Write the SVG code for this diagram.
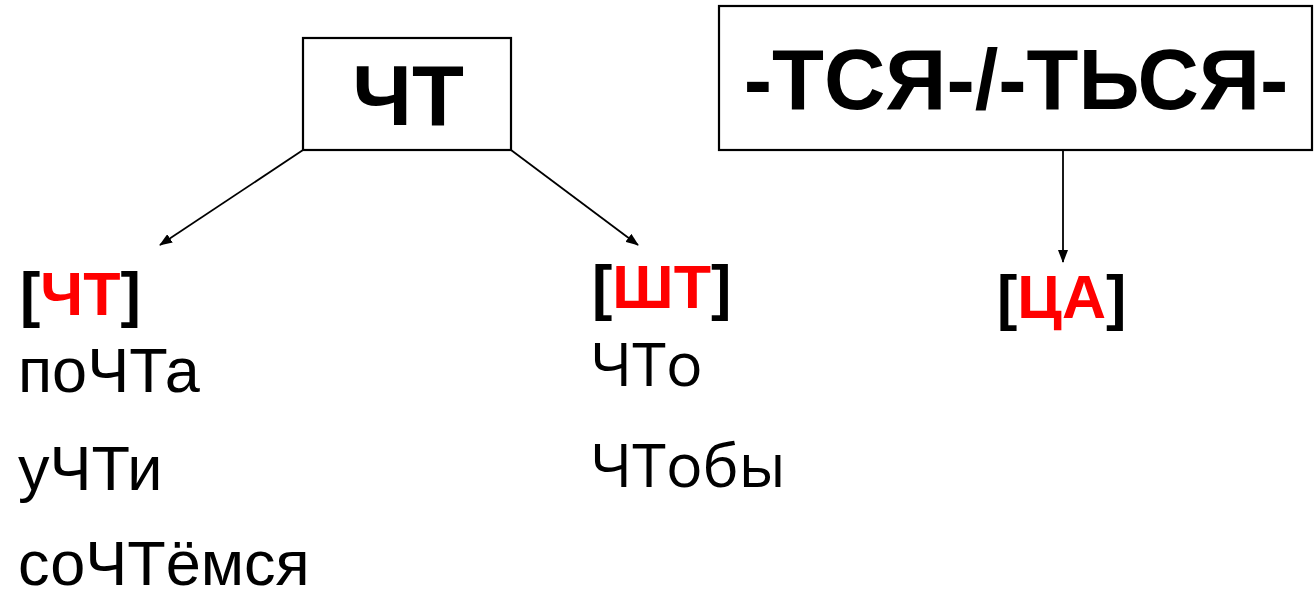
<svg xmlns="http://www.w3.org/2000/svg" width="1315" height="597" viewBox="0 0 1315 597">
<defs>
<marker id="ah" markerWidth="13" markerHeight="10" refX="12" refY="5" orient="auto" markerUnits="userSpaceOnUse">
<path d="M0,0 L13,5 L0,10 z" fill="#000"/>
</marker>
<style>
.box{fill:#fff;stroke:#000;stroke-width:2.2}
.title{font-family:"Liberation Sans",Arial,sans-serif;font-weight:bold;font-size:85px;fill:#000}
.lbl{font-family:"Liberation Sans",Arial,sans-serif;font-weight:bold;font-size:61px;fill:#000}
.red{fill:#ff0000}
.word{font-family:"Liberation Sans",Arial,sans-serif;font-size:63px;fill:#000}
.word2{font-family:"Open Sans","Noto Sans",sans-serif;font-size:61px;fill:#000}
.conn{stroke:#000;stroke-width:1.8;fill:none}
</style>
</defs>
<rect width="1315" height="597" fill="#fff"/>
<g id="connectors">
<line class="conn" x1="303" y1="150" x2="160" y2="245" marker-end="url(#ah)"/>
<line class="conn" x1="511" y1="150" x2="638" y2="245" marker-end="url(#ah)"/>
<line class="conn" x1="1063" y1="150" x2="1063" y2="262" marker-end="url(#ah)"/>
</g>
<g id="node-cht">
<rect class="box" x="303" y="38" width="208" height="112"/>
<text class="title" x="408" y="125" text-anchor="middle">ЧТ</text>
</g>
<g id="node-tsya">
<rect class="box" x="719" y="6" width="593" height="144"/>
<text class="title" x="1016" y="109" text-anchor="middle">-ТСЯ-/-ТЬСЯ-</text>
</g>
<g id="node-cht-sound">
<text class="lbl" x="20" y="315">[<tspan class="red">ЧТ</tspan>]</text>
<text class="word" x="18" y="392">поЧТа</text>
<text class="word" x="18" y="490">уЧТи</text>
<text class="word" x="18" y="585">соЧТёмся</text>
</g>
<g id="node-sht-sound">
<text class="lbl" x="592" y="308">[<tspan class="red">ШТ</tspan>]</text>
<text class="word2" x="590" y="386">ЧТо</text>
<text class="word2" x="590" y="487">ЧТобы</text>
</g>
<g id="node-tsa-sound">
<text class="lbl" x="997" y="318">[<tspan class="red">ЦА</tspan>]</text>
</g>
</svg>
